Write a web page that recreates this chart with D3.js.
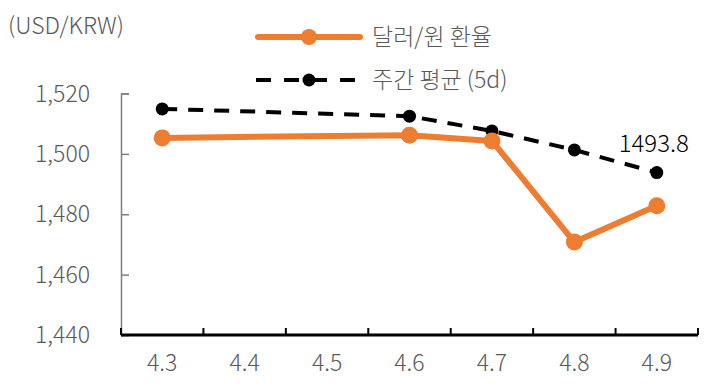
<!DOCTYPE html>
<html>
<head>
<meta charset="utf-8">
<script src="https://cdn.jsdelivr.net/npm/d3@7"></script>
<style>
  body { margin: 0; background: #fff; }
  text { font-family: "Noto Sans CJK KR", "Noto Sans", sans-serif; font-weight: 300; }
</style>
</head>
<body>
<div id="container"></div>
<script>
const dates = ["4.3", "4.4", "4.5", "4.6", "4.7", "4.8", "4.9"];
// no trading on 4.4 / 4.5
const fxRate = [1505.3, null, null, 1506.2, 1504.3, 1470.8, 1482.8];
const weekAvg = [1514.9, null, null, 1512.5, 1507.6, 1501.3, 1493.8];
const yTicks = [1440, 1460, 1480, 1500, 1520];
const seriesNames = ["달러/원 환율", "주간 평균 (5d)"];
const unitLabel = "(USD/KRW)";

const width = 709, height = 390;
const orange = "#ed7d31";

const svg = d3.select("#container").append("svg")
  .attr("width", width)
  .attr("height", height);

const x = d3.scaleBand().domain(dates).range([121, 698]);
const y = d3.scaleLinear().domain([1440, 1520]).range([335, 93.5]);

// y axis
const yAxis = svg.append("g")
  .attr("transform", "translate(121,0)")
  .call(d3.axisRight(y).tickValues(yTicks).tickSize(8).tickFormat(""));
yAxis.select(".domain").attr("stroke", "#7f7f7f").attr("stroke-width", 1.5);
yAxis.selectAll(".tick line").attr("stroke", "#7f7f7f").attr("stroke-width", 1.5);

svg.append("g").selectAll("text")
  .data(yTicks)
  .enter()
  .append("text")
  .attr("x", 90)
  .attr("y", d => y(d))
  .attr("dy", "0.35em")
  .attr("text-anchor", "end")
  .attr("font-size", 23)
  .attr("fill", "#595959")
  .text(d3.format(","));

// x axis
const bounds = dates.map(d => x(d)).concat([x.range()[1]]);
const xg = svg.append("g");
xg.append("line")
  .attr("x1", 121).attr("x2", 698)
  .attr("y1", y(1440)).attr("y2", y(1440))
  .attr("stroke", "#000").attr("stroke-width", 3);
xg.selectAll(".xt")
  .data(bounds)
  .enter()
  .append("line")
  .attr("x1", d => d).attr("x2", d => d)
  .attr("y1", y(1440)).attr("y2", y(1440) - 7)
  .attr("stroke", "#000").attr("stroke-width", 2);
xg.selectAll("text")
  .data(dates)
  .enter()
  .append("text")
  .attr("x", d => x(d) + x.bandwidth() / 2)
  .attr("y", 363)
  .attr("dy", "0.35em")
  .attr("text-anchor", "middle")
  .attr("font-size", 23)
  .attr("fill", "#595959")
  .text(d => d);

svg.append("text")
  .attr("x", 8)
  .attr("y", 26)
  .attr("dy", "0.35em")
  .attr("font-size", 23)
  .attr("fill", "#595959")
  .text(unitLabel);

const cx = d => x(d.date) + x.bandwidth() / 2;
function points(vals) {
  return dates.map((d, i) => ({ date: d, value: vals[i] })).filter(p => p.value != null);
}
const line = d3.line().x(cx).y(d => y(d.value));

// weekly average (dashed)
const avgPts = points(weekAvg);
svg.append("path")
  .datum(avgPts)
  .attr("d", line)
  .attr("fill", "none")
  .attr("stroke", "#000")
  .attr("stroke-width", 4)
  .attr("stroke-dasharray", "15,11");
svg.selectAll(".avg")
  .data(avgPts)
  .enter()
  .append("circle")
  .attr("cx", cx)
  .attr("cy", d => y(d.value))
  .attr("r", 6.5)
  .attr("fill", "#000");

// fx rate
const fxPts = points(fxRate);
svg.append("path")
  .datum(fxPts)
  .attr("d", line)
  .attr("fill", "none")
  .attr("stroke", orange)
  .attr("stroke-width", 6)
  .attr("stroke-linejoin", "round");
svg.selectAll(".fx")
  .data(fxPts)
  .enter()
  .append("circle")
  .attr("cx", cx)
  .attr("cy", d => y(d.value))
  .attr("r", 8.5)
  .attr("fill", orange);

// last value label
const last = avgPts[avgPts.length - 1];
svg.append("text")
  .attr("x", cx(last) - 3)
  .attr("y", y(last.value) - 21)
  .attr("text-anchor", "middle")
  .attr("font-size", 24)
  .attr("fill", "#000")
  .text(last.value.toFixed(1));

// legend
const legend = svg.append("g");
legend.append("line")
  .attr("x1", 258).attr("x2", 360).attr("y1", 37).attr("y2", 37)
  .attr("stroke", orange).attr("stroke-width", 6).attr("stroke-linecap", "round");
legend.append("circle").attr("cx", 309).attr("cy", 37).attr("r", 8).attr("fill", orange);
legend.append("text")
  .attr("x", 372).attr("y", 37).attr("dy", "0.35em")
  .attr("font-size", 23).attr("fill", "#595959")
  .text(seriesNames[0]);

legend.append("line")
  .attr("x1", 256).attr("x2", 356).attr("y1", 80).attr("y2", 80)
  .attr("stroke", "#000").attr("stroke-width", 4)
  .attr("stroke-dasharray", "15,13");
legend.append("circle").attr("cx", 309).attr("cy", 80).attr("r", 6.5).attr("fill", "#000");
legend.append("text")
  .attr("x", 372).attr("y", 80).attr("dy", "0.35em")
  .attr("font-size", 23).attr("fill", "#595959")
  .text(seriesNames[1]);
</script>
</body>
</html>
